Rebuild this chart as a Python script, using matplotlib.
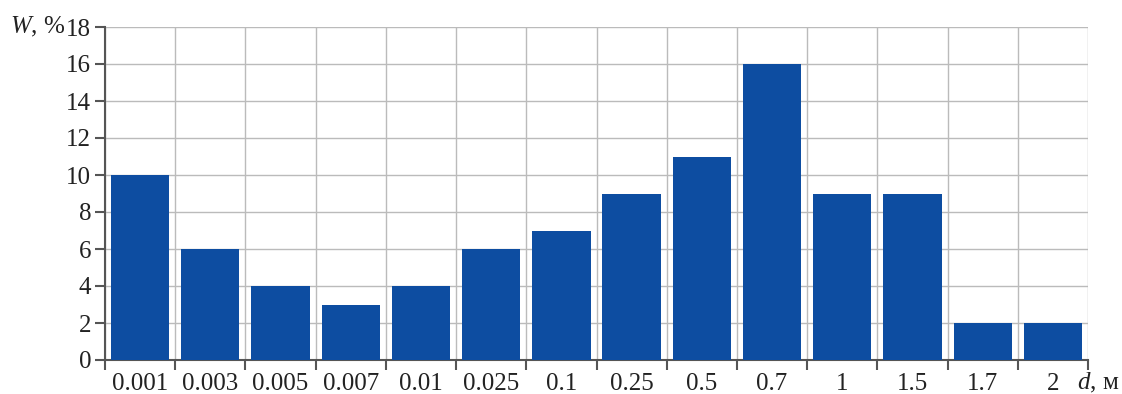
import numpy as np
import matplotlib
matplotlib.use("Agg")
import matplotlib.pyplot as plt

# dane wykresu
categories = ["0.001", "0.003", "0.005", "0.007", "0.01", "0.025", "0.1",
              "0.25", "0.5", "0.7", "1", "1.5", "1.7", "2"]
values = [10, 6, 4, 3, 4, 6, 7, 9, 11, 16, 9, 9, 2, 2]
yticks = [0, 2, 4, 6, 8, 10, 12, 14, 16, 18]

plt.rcParams['font.family'] = ['Liberation Serif', 'DejaVu Serif']
plt.rcParams['font.size'] = 18
plt.rcParams['mathtext.fontset'] = 'custom'
plt.rcParams['mathtext.rm'] = 'Liberation Serif'
plt.rcParams['mathtext.it'] = 'Liberation Serif:italic'

fig = plt.figure(figsize=(11.22, 3.94), dpi=100)
ax = fig.add_axes([105/1122, 34/394, 983/1122, 333/394])

x = np.arange(len(categories))
ax.bar(x, values, width=0.83, color='#0D4DA1', zorder=3)

ax.set_xlim(-0.5, len(categories) - 0.5)
ax.set_ylim(0, 18)
ax.set_yticks(yticks)

# etykiety pod slupkami, kreski na granicach
ax.set_xticks(x)
ax.set_xticklabels(categories)
ax.set_xticks(np.arange(len(categories) + 1) - 0.5, minor=True)
ax.tick_params(axis='x', which='major', length=0, pad=9, colors='#222222')
ax.tick_params(axis='x', which='minor', length=7, width=1.5, color='#555555')
ax.tick_params(axis='y', length=7, width=1.5, color='#555555', labelcolor='#222222', pad=3)

ax.grid(True, which='minor', axis='x', color='#bbbbbb', lw=1, zorder=0)
ax.grid(True, which='major', axis='y', color='#bbbbbb', lw=1, zorder=0)

for s in ['top', 'right']:
    ax.spines[s].set_visible(False)
for s in ['left', 'bottom']:
    ax.spines[s].set_color('#555555')
    ax.spines[s].set_linewidth(1.5)

fig.text(10/1122, 1 - 27/394, r'$W$, %', ha='left', va='center', color='#222222')
fig.text(1119/1122, 1 - 383/394, '$d$, м', ha='right', va='center', color='#222222')

fig.savefig('out.png', dpi=100)
